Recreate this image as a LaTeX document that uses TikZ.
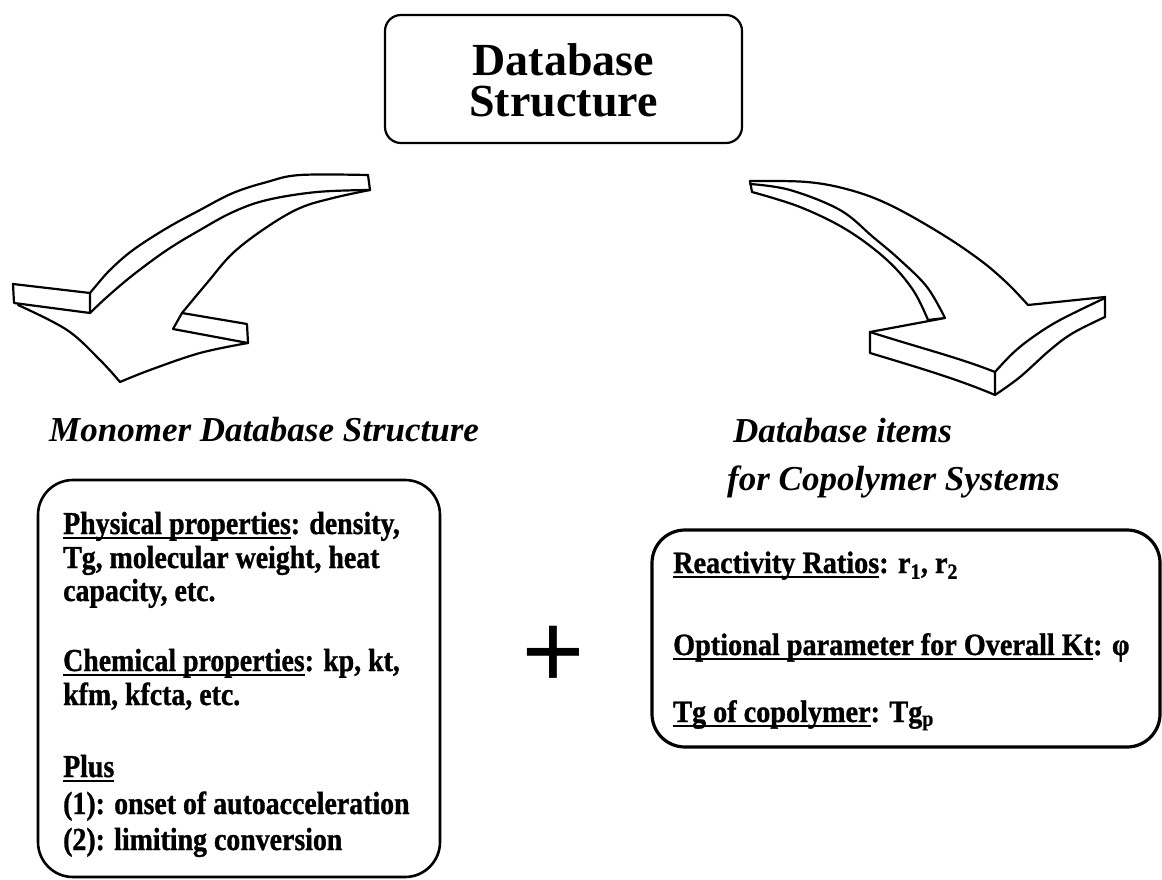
\documentclass[tikz,border=0pt]{standalone}
\usepackage{fontspec}
\setmainfont{Liberation Serif}
\newfontfamily\bodyL[FakeStretch=0.87, BoldFeatures={FakeBold=1}]{Liberation Serif}
\newfontfamily\bodyR[FakeStretch=0.91, BoldFeatures={FakeBold=1}]{Liberation Serif}
\newcommand\myul[1]{\leavevmode\setbox0\hbox{#1}\rlap{\rule[-4.5pt]{\wd0}{1.8pt}}\box0}
\tikzset{
  arr/.style={line width=2.2pt, line join=round, line cap=round},
  box/.style={draw, line width=2.4pt, inner sep=0pt},
  lineL/.style={anchor=base west, inner sep=0pt, font=\bodyL\bfseries\fontsize{32}{34}\selectfont},
  lineR/.style={anchor=base west, inner sep=0pt, font=\bodyR\bfseries\fontsize{31}{33}\selectfont},
  head/.style={anchor=base west, inner sep=0pt, font=\bfseries\itshape\fontsize{35}{37}\selectfont},
  title/.style={anchor=base, inner sep=0pt, font=\bfseries\fontsize{46}{46}\selectfont},
}
\begin{document}
\begin{tikzpicture}[x=1pt,y=-1pt]
\useasboundingbox (0,0) rectangle (1162,880);
% top box
\node[box, line width=2.2pt, rounded corners=16pt, minimum width=357pt, minimum height=128pt] (top) at (563.5,79) {};
\node[title] (t1) at (563.5,76) {Database};
\node[title] (t2) at (563.5,117) {Structure};

% left arrow
\draw[arr] plot[smooth, tension=0.6] coordinates {(368,175) (300,175) (267,182) (233,193) (200,210) (167,228) (133,250) (110,270) (95,287) (90,293)};
\draw[arr] plot[smooth, tension=0.6] coordinates {(370,190) (317,192) (267,200) (233,212) (200,230) (167,250) (133,275) (107,297) (90,313)};
\draw[arr] (368,175) -- (370,190);
\draw[arr] plot[smooth, tension=0.6] coordinates {(370,190) (333,198) (300,208) (267,227) (233,253) (207,283) (182,313)};
\draw[arr] (90,293) -- (13,284) -- (14,303) -- (90,313) -- cycle;
\draw[arr] plot[smooth, tension=0.6] coordinates {(18,305) (67,330) (100,360) (120,382)};
\draw[arr] plot[smooth, tension=0.6] coordinates {(120,382) (150,370) (200,353) (248,343)};
\draw[arr] (182,313) -- (247,324) -- (248,343) -- (173,329) -- cycle;

% right arrow
\draw[arr] plot[smooth, tension=0.6] coordinates {(750,181) (807,182) (850,190) (890,205) (940,233) (980,260) (1007,283) (1028,305)};
\draw[arr] plot[smooth, tension=0.6] coordinates {(750,184) (790,190) (840,210) (873,237) (900,260) (927,287) (945,318)};
\draw[arr] plot[smooth, tension=0.6] coordinates {(752,192) (800,207) (847,230) (887,260) (913,290) (928,320)};
\draw[arr] (750,181) -- (752,192);
\draw[arr] (928,320) -- (945,318) -- (870,332);
\draw[arr] (870,332) -- (870,353) .. controls (920,368) and (960,380) .. (995,395) -- (995,372) .. controls (960,358) and (920,348) .. (870,332);
\draw[arr] plot[smooth, tension=0.6] coordinates {(995,372) (1013,353) (1033,337) (1060,320) (1105,298)};
\draw[arr] plot[smooth, tension=0.6] coordinates {(995,395) (1020,377) (1050,350) (1073,333) (1105,317)};
\draw[arr] (1028,305) -- (1105,297) -- (1105,317);

% headings
\node[head] (hmono) at (49,441) {Monomer Database Structure};
\node[head] (hcopo1) at (733,442) {Database items};
\node[head] (hcopo2) at (727,490) {for Copolymer Systems};

% left box
\node[box, line width=2.6pt, rounded corners=35pt, minimum width=402pt, minimum height=397pt] (mono) at (239,678.5) {};
\node[lineL] (l1) at (63,534) {\myul{Physical properties}: density,};
\node[lineL] (l2) at (63,568) {Tg, molecular weight, heat};
\node[lineL] (l3) at (63,601) {capacity, etc.};
\node[lineL] (l4) at (63,671) {\myul{Chemical properties}: kp, kt,};
\node[lineL] (l5) at (63,705) {kfm, kfcta, etc.};
\node[lineL] (l6) at (63,777) {\myul{Plus}};
\node[lineL] (l7) at (63,814) {(1): onset of autoacceleration};
\node[lineL] (l8) at (63,850) {(2): limiting conversion};

% plus
\node[inner sep=0pt, font=\bfseries\fontsize{112}{112}\selectfont] (plus) at (553,658) {+};

% right box
\node[box, line width=3.2pt, rounded corners=33pt, minimum width=508pt, minimum height=217pt] (copo) at (906,638.5) {};
\node[lineR] (r1) at (673,573) {\myul{Reactivity Ratios}: r\textsubscript{1}, r\textsubscript{2}};
\node[lineR] (r2) at (673,655) {\myul{Optional parameter for Overall Kt} : φ};
\node[lineR] (r3) at (673,722) {\myul{Tg of copolymer}: Tg\textsubscript{p}};
\end{tikzpicture}
\end{document}
